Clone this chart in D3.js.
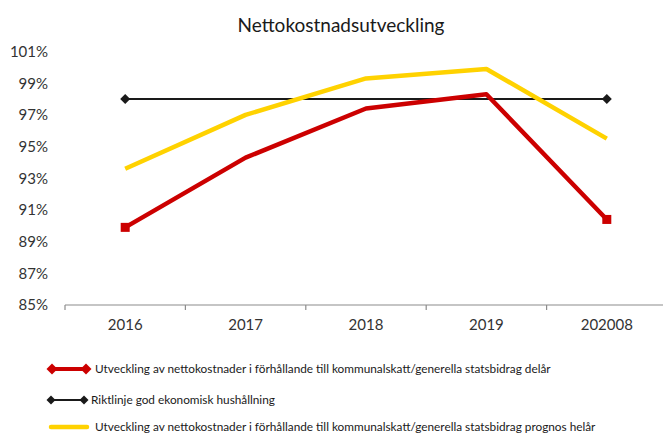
<!DOCTYPE html>
<html>
<head>
<meta charset="utf-8">
<script src="https://cdn.jsdelivr.net/npm/d3@7"></script>
<style>
  html, body { margin: 0; padding: 0; background: #fff; }
  svg { display: block; font-family: Lato, "Open Sans", sans-serif; }
</style>
</head>
<body>
<svg id="chart" width="663" height="434"></svg>
<script>
// ---- data ----
const title = "Nettokostnadsutveckling";
const categories = ["2016", "2017", "2018", "2019", "202008"];
const delarValues = [89.9, 94.3, 97.4, 98.3, 90.4];
const riktlinjeValues = [98, null, null, null, 98];
const prognosValues = [93.6, 97.0, 99.3, 99.9, 95.5];
const yTicks = [85, 87, 89, 91, 93, 95, 97, 99, 101];
const legendLabels = [
  "Utveckling av nettokostnader i förhållande till kommunalskatt/generella statsbidrag delår",
  "Riktlinje god ekonomisk hushållning",
  "Utveckling av nettokostnader i förhållande till kommunalskatt/generella statsbidrag prognos helår"
];

// ---- drawing ----
const svg = d3.select("#chart");
const RED = "#CC0000", YELLOW = "#FFD200", BLACK = "#1a1a1a";

const x = d3.scaleBand().domain(categories).range([65, 667]).paddingInner(0).paddingOuter(0);
const y = d3.scaleLinear().domain([85, 101]).range([305, 51.5]);
const cx = c => x(c) + x.bandwidth() / 2;

// title
svg.append("text").attr("x", 341).attr("y", 32).attr("text-anchor", "middle")
  .attr("font-size", 19).attr("fill", "#1a1a1a").text(title);

// y axis labels (no line)
const yAxis = d3.axisLeft(y).tickValues(yTicks).tickSize(0).tickPadding(0)
  .tickFormat(d => d + "%");
const gy = svg.append("g").attr("transform", "translate(48,0)").call(yAxis);
gy.select(".domain").remove();
gy.selectAll("text").attr("font-size", 15).attr("fill", "#333").attr("font-family", "Lato, sans-serif");

// x axis
const xAxis = d3.axisBottom(x).tickSize(0).tickPadding(14);
const gx = svg.append("g").attr("transform", "translate(0,305)").call(xAxis);
gx.select(".domain").attr("stroke", "#8c8c8c").attr("stroke-width", 1.2).attr("d", "M65,0H667");
gx.selectAll("text").attr("font-size", 15).attr("fill", "#333").attr("font-family", "Lato, sans-serif");
// boundary ticks
const bounds = categories.map(c => x(c)).concat([x(categories[categories.length - 1]) + x.bandwidth()]);
gx.selectAll(".btick").data(bounds).enter().append("line").attr("class", "btick")
  .attr("x1", d => d).attr("x2", d => d).attr("y1", 0).attr("y2", 5)
  .attr("stroke", "#8c8c8c").attr("stroke-width", 1.2);

const line = d3.line().defined(d => d.v != null).x(d => cx(d.c)).y(d => y(d.v));
const toPts = vals => categories.map((c, i) => ({ c, v: vals[i] }));

// black guideline (connect through gaps)
const blackPts = toPts(riktlinjeValues).filter(d => d.v != null);
svg.append("path").datum(blackPts).attr("d", line).attr("fill", "none")
  .attr("stroke", BLACK).attr("stroke-width", 2);
svg.selectAll(".bd").data(blackPts).enter().append("path")
  .attr("transform", d => `translate(${cx(d.c)},${y(d.v)})`)
  .attr("d", "M0,-5L5,0L0,5L-5,0Z").attr("fill", BLACK);

// yellow
svg.append("path").datum(toPts(prognosValues)).attr("d", line).attr("fill", "none")
  .attr("stroke", YELLOW).attr("stroke-width", 4.5).attr("stroke-linejoin", "round");

// red
const redPts = toPts(delarValues);
svg.append("path").datum(redPts).attr("d", line).attr("fill", "none")
  .attr("stroke", RED).attr("stroke-width", 4.5).attr("stroke-linejoin", "round");
svg.selectAll(".rs").data([redPts[0], redPts[redPts.length - 1]]).enter().append("rect")
  .attr("x", d => cx(d.c) - 4.5).attr("y", d => y(d.v) - 4.5)
  .attr("width", 9).attr("height", 9).attr("fill", RED);

// legend
const leg = svg.append("g");
const legendItems = [
  { label: legendLabels[0], color: RED, sw: 4, x0: 52, x1: 86, y: 369, marker: 5.5, tx: 95 },
  { label: legendLabels[1], color: BLACK, sw: 2, x0: 51, x1: 84, y: 400, marker: 4.5, tx: 91 },
  { label: legendLabels[2], color: YELLOW, sw: 4.5, x0: 51, x1: 87, y: 427, marker: 0, tx: 95 }
];
legendItems.forEach(it => {
  leg.append("line").attr("x1", it.x0).attr("x2", it.x1).attr("y1", it.y).attr("y2", it.y)
    .attr("stroke", it.color).attr("stroke-width", it.sw).attr("stroke-linecap", it.marker ? "butt" : "round");
  if (it.marker) {
    [it.x0, it.x1].forEach(px => {
      const m = it.marker;
      leg.append("path").attr("transform", `translate(${px},${it.y})`)
        .attr("d", `M0,${-m}L${m},0L0,${m}L${-m},0Z`).attr("fill", it.color);
    });
  }
  leg.append("text").attr("x", it.tx).attr("y", it.y).attr("dy", "0.35em")
    .attr("font-size", 11.8).attr("fill", "#1a1a1a").text(it.label);
});
</script>
</body>
</html>
